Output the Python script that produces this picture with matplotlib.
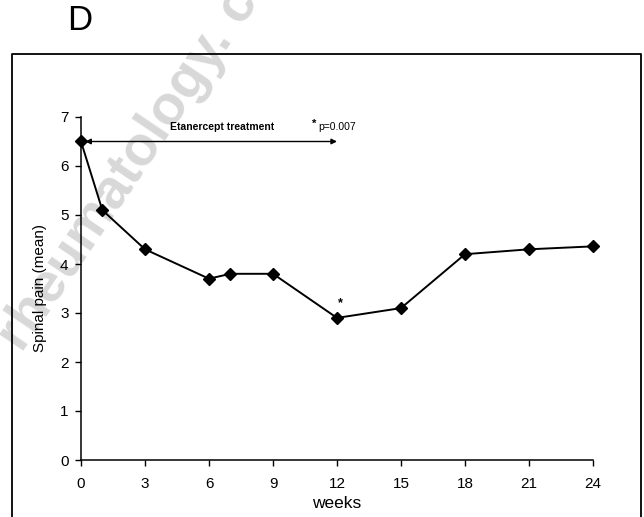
import matplotlib
matplotlib.use("Agg")
import matplotlib.pyplot as plt
from matplotlib.lines import Line2D

plt.rcParams['font.family'] = ['Liberation Sans', 'DejaVu Sans']

# Mean spinal pain over the course of etanercept treatment
weeks = [0, 1, 3, 6, 7, 9, 12, 15, 18, 21, 24]
pain_mean = [6.5, 5.1, 4.3, 3.7, 3.8, 3.8, 2.9, 3.1, 4.2, 4.3, 4.36]
x_ticks = [0, 3, 6, 9, 12, 15, 18, 21, 24]
y_ticks = [0, 1, 2, 3, 4, 5, 6, 7]
treatment_span = [0, 12]
treatment_level = 6.5
significant_week = 12

W, H = 644, 517
fig = plt.figure(figsize=(W / 100, H / 100), dpi=100)
fig.patch.set_facecolor('white')

# faint diagonal site watermark behind the panel
fig.text(0.215, 0.70, "rheumatology. co", fontsize=40, fontweight='bold',
         color='#d8d8d8', rotation=56, ha='center', va='center', zorder=-5)

# frame around the panel (open at the bottom edge of the image)
fx0, fx1, fy1 = 12 / W, 641 / W, 1 - 54 / H
fig.add_artist(Line2D([fx0, fx0, fx1, fx1], [0, fy1, fy1, 0], color='black',
                      lw=1.3, transform=fig.transFigure, zorder=-1))

fig.text(67 / W, 1 - 21 / H, "D", fontsize=25, ha='left', va='center')

ax = fig.add_axes([81 / W, 1 - 460 / H, (593 - 81) / W, (460 - 117) / H])
ax.set_zorder(2)
ax.patch.set_alpha(0)
ax.set_xlim(0, 24)
ax.set_ylim(0, 7)
for s in ['top', 'right']:
    ax.spines[s].set_visible(False)
for s in ['left', 'bottom']:
    ax.spines[s].set_linewidth(1.1)

ax.set_xticks(x_ticks)
ax.set_yticks(y_ticks)
ax.tick_params(direction='out', length=4, width=1, labelsize=11)
ax.tick_params(axis='x', pad=8)
ax.tick_params(axis='y', pad=5)

ax.plot(weeks, pain_mean, color='black', lw=1.4, marker='D', markersize=6,
        clip_on=False, zorder=3)

# treatment period arrow
ax.annotate('', xy=(treatment_span[1], treatment_level),
            xytext=(treatment_span[0] + 0.2, treatment_level),
            arrowprops=dict(arrowstyle='<|-|>', lw=1.0, color='black',
                            mutation_scale=8, shrinkA=0, shrinkB=0))
ax.text(6.6, 6.8, "Etanercept treatment", fontsize=7.5, fontweight='bold',
        ha='center', va='center')
ax.text(10.95, 6.86, "*", fontsize=8, fontweight='bold', ha='center', va='center')
ax.text(11.1, 6.79, "p=0.007", fontsize=7.5, ha='left', va='center')

# significance marker at week 12
ax.text(significant_week + 0.15, 3.2, "*", fontsize=9, fontweight='bold',
        ha='center', va='center')

ax.set_xlabel("weeks", fontsize=12.5, labelpad=4)
ax.set_ylabel("Spinal pain (mean)", fontsize=11, labelpad=9)

fig.savefig("out.png", dpi=100, facecolor='white')
